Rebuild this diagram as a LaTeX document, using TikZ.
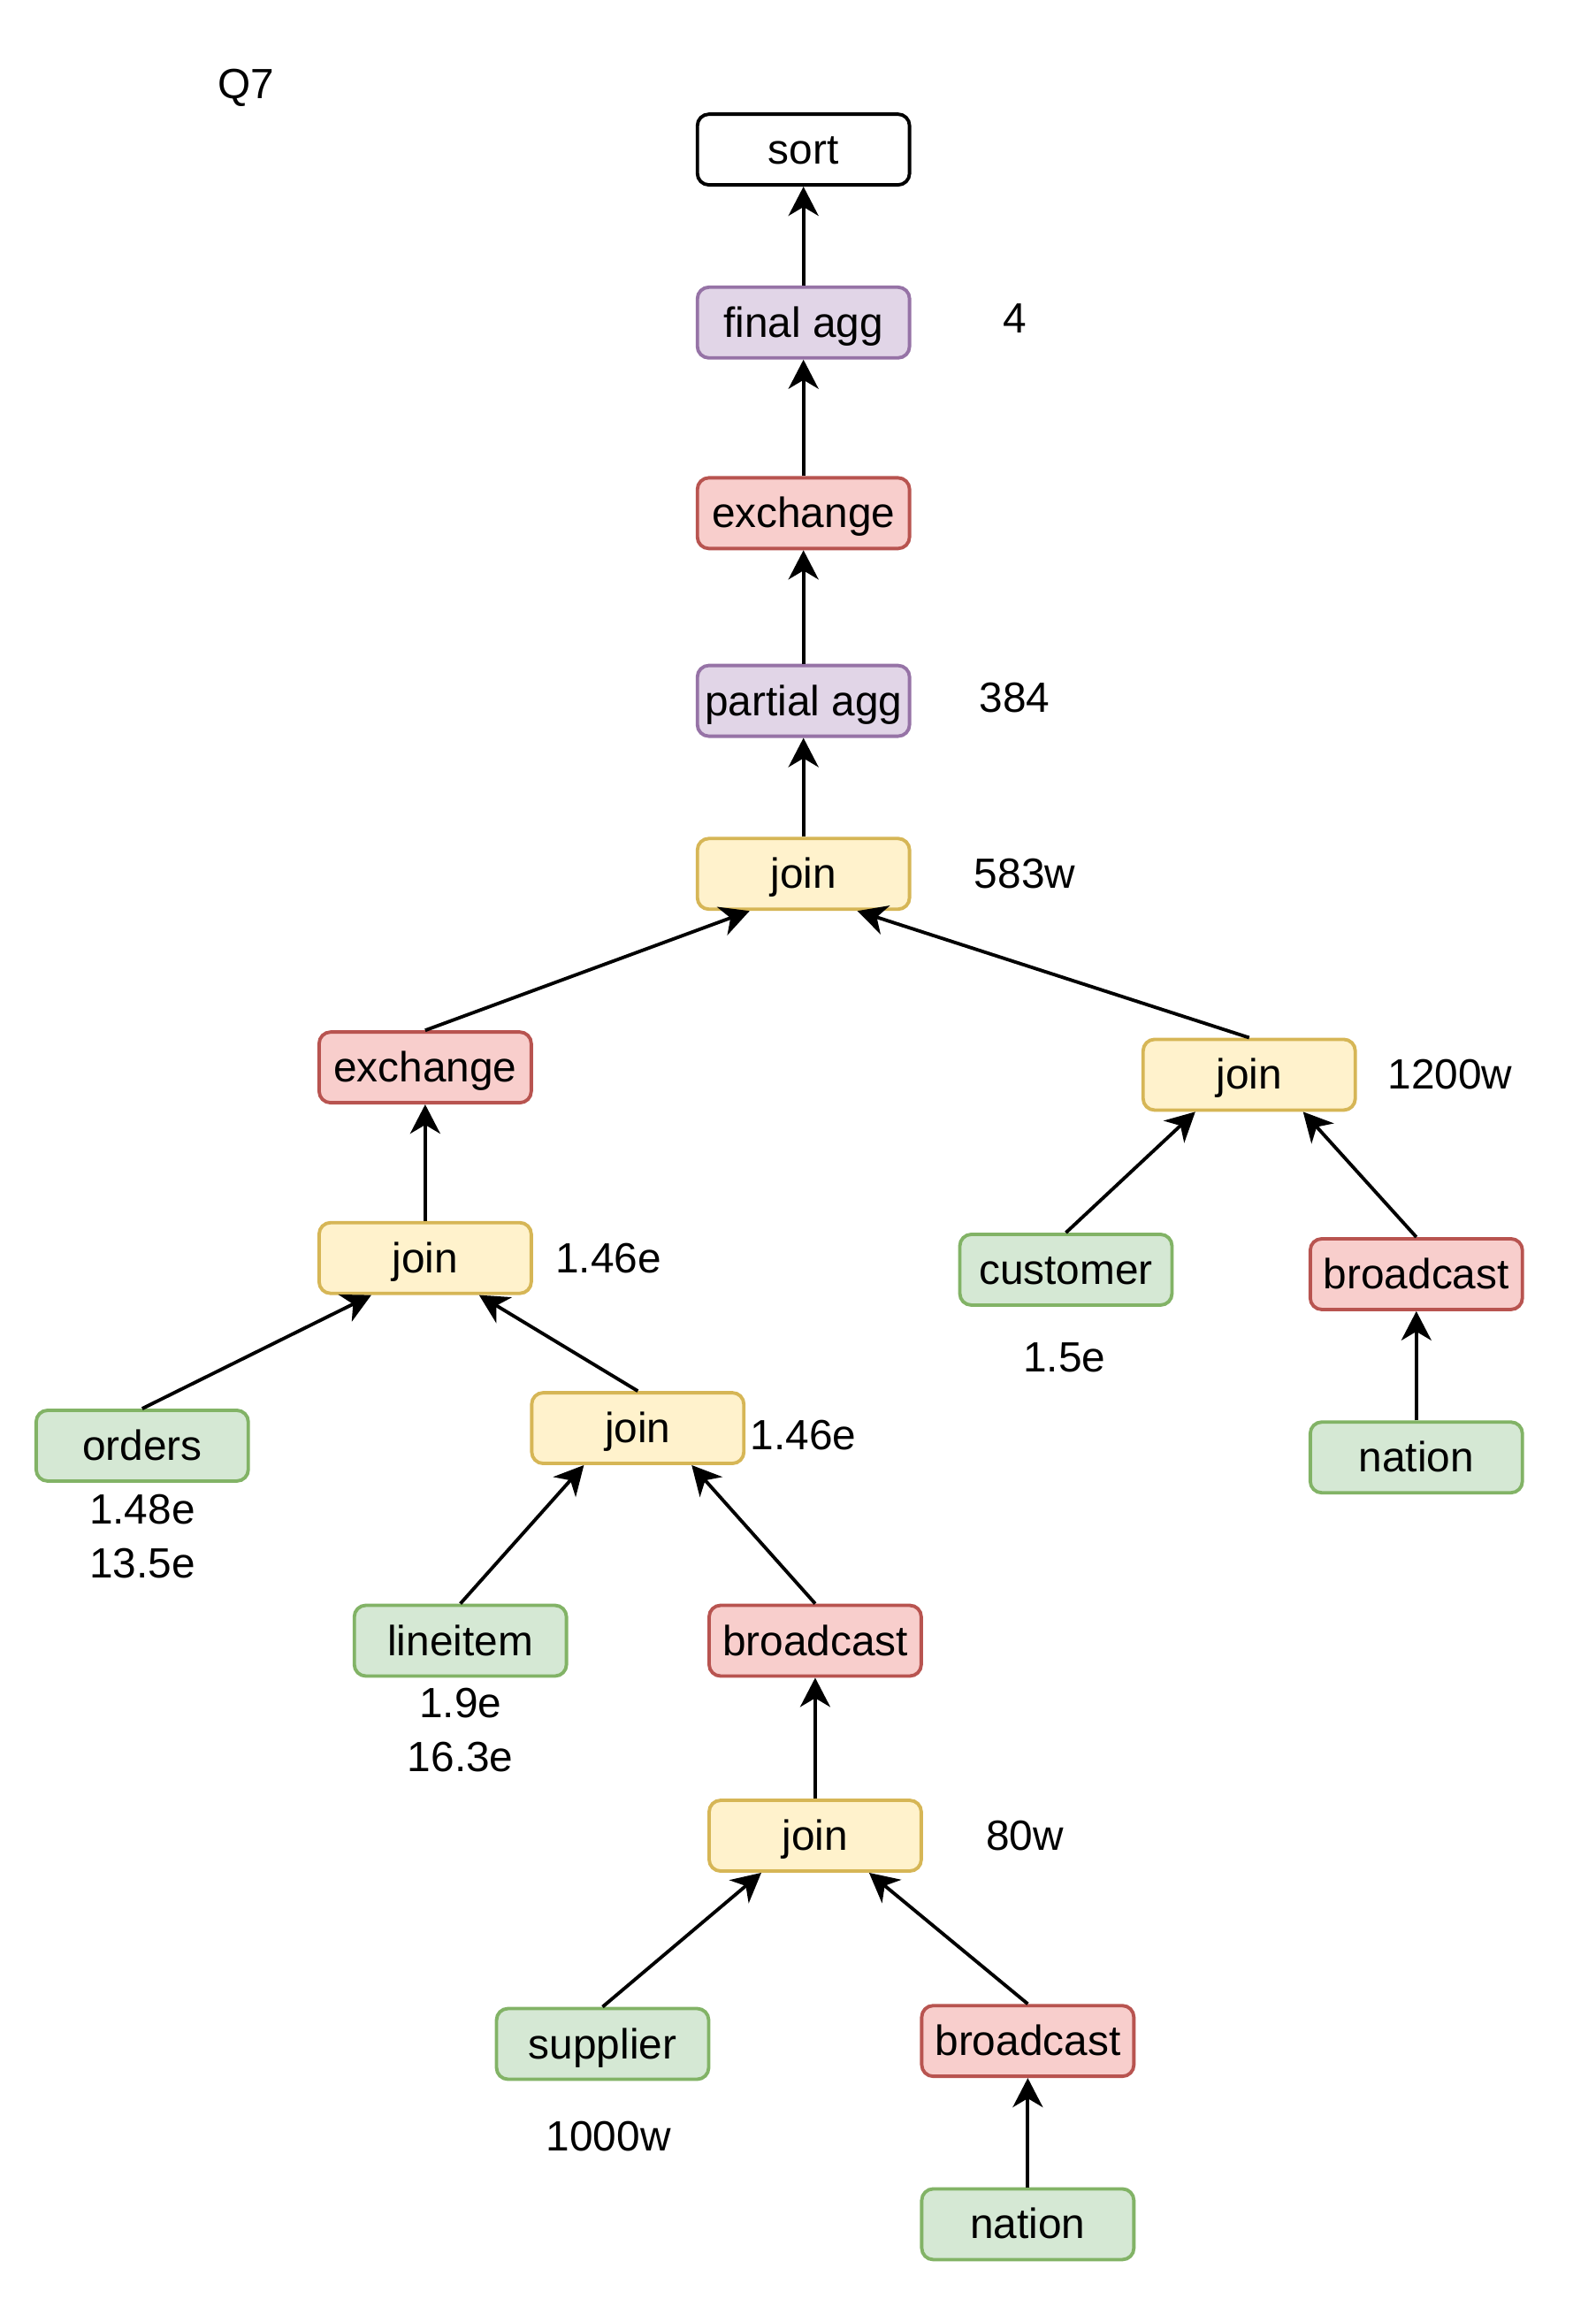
\documentclass[tikz,border=0pt]{standalone}
\usepackage{fontspec}
\setmainfont{Liberation Sans}
\usepackage{xcolor}
\usepackage{tikz}
\usetikzlibrary{arrows.meta,positioning,calc}

\definecolor{joinfill}{HTML}{FFF2CC}
\definecolor{joinline}{HTML}{D6B656}
\definecolor{aggfill}{HTML}{E1D5E7}
\definecolor{aggline}{HTML}{9673A6}
\definecolor{exfill}{HTML}{F8CECC}
\definecolor{exline}{HTML}{B85450}
\definecolor{tblfill}{HTML}{D5E8D4}
\definecolor{tblline}{HTML}{82B366}

\begin{document}
\begin{tikzpicture}[x=0.01658cm, y=-0.01658cm,
  op/.style={rectangle, rounded corners=0.13cm, line width=1.1pt,
    minimum width=2.40cm, minimum height=0.80cm, inner sep=0pt,
    text height=0.46cm, text depth=0.13cm,
    font=\fontsize{13.6}{16}\selectfont},
  sortbox/.style={op, draw=black, fill=white},
  aggbox/.style={op, draw=aggline, fill=aggfill},
  exbox/.style={op, draw=exline, fill=exfill},
  joinbox/.style={op, draw=joinline, fill=joinfill},
  tblbox/.style={op, draw=tblline, fill=tblfill},
  num/.style={font=\fontsize{13.6}{17.4}\selectfont, inner sep=0pt},
  arr/.style={line width=1.1pt, -{Stealth[length=0.33cm, width=0.34cm, inset=0.1cm]}}]
\useasboundingbox (0,0) rectangle (1088,1568);

% plan tree
\node[sortbox] (sort) at (548,102) {sort};
\node[aggbox] (finalAgg) at (548,220) {final agg};
\node[exbox] (exTop) at (548,350) {exchange};
\node[aggbox] (partialAgg) at (548,478) {partial agg};
\node[joinbox] (joinTop) at (548,596) {join};
\node[exbox] (exLeft) at (290,728) {exchange};
\node[joinbox] (joinRight) at (852,733) {join};
\node[joinbox] (joinLeft) at (290,858) {join};
\node[tblbox] (customer) at (727,866) {customer};
\node[exbox] (bcRight) at (966,869) {broadcast};
\node[tblbox] (orders) at (97,986) {orders};
\node[joinbox] (joinMid) at (435,974) {join};
\node[tblbox] (nationRight) at (966,994) {nation};
\node[tblbox] (lineitem) at (314,1119) {lineitem};
\node[exbox] (bcMid) at (556,1119) {broadcast};
\node[joinbox] (joinBot) at (556,1252) {join};
\node[tblbox] (supplier) at (411,1394) {supplier};
\node[exbox] (bcBot) at (701,1392) {broadcast};
\node[tblbox] (nationBot) at (701,1517) {nation};

% row counts
\node[num] (q7) at (168,60) {Q7};
\node[num] (cFinal) at (692,217) {4};
\node[num] (cPartial) at (692,476) {384};
\node[num] (cJoinTop) at (699,596) {583w};
\node[num] (cJoinRight) at (989,733) {1200w};
\node[num] (cJoinLeft) at (415,858) {1.46e};
\node[num] (cCustomer) at (726,926) {1.5e};
\node[num] (cJoinMid) at (548,979) {1.46e};
\node[num, align=center] (cOrders) at (97,1048) {1.48e\\13.5e};
\node[num, align=center] (cLineitem) at (314,1180) {1.9e\\16.3e};
\node[num] (cJoinBot) at (699,1252) {80w};
\node[num] (cSupplier) at (415,1457) {1000w};

% edges
\draw[arr] (finalAgg.north) -- (sort.south);
\draw[arr] (exTop.north) -- (finalAgg.south);
\draw[arr] (partialAgg.north) -- (exTop.south);
\draw[arr] (joinTop.north) -- (partialAgg.south);
\draw[arr] (exLeft.north) -- ($(joinTop.south)!0.5!(joinTop.south west)$);
\draw[arr] (joinRight.north) -- ($(joinTop.south)!0.5!(joinTop.south east)$);
\draw[arr] (joinLeft.north) -- (exLeft.south);
\draw[arr] (customer.north) -- ($(joinRight.south)!0.5!(joinRight.south west)$);
\draw[arr] (bcRight.north) -- ($(joinRight.south)!0.5!(joinRight.south east)$);
\draw[arr] (nationRight.north) -- (bcRight.south);
\draw[arr] (orders.north) -- ($(joinLeft.south)!0.5!(joinLeft.south west)$);
\draw[arr] (joinMid.north) -- ($(joinLeft.south)!0.5!(joinLeft.south east)$);
\draw[arr] (lineitem.north) -- ($(joinMid.south)!0.5!(joinMid.south west)$);
\draw[arr] (bcMid.north) -- ($(joinMid.south)!0.5!(joinMid.south east)$);
\draw[arr] (joinBot.north) -- (bcMid.south);
\draw[arr] (supplier.north) -- ($(joinBot.south)!0.5!(joinBot.south west)$);
\draw[arr] (bcBot.north) -- ($(joinBot.south)!0.5!(joinBot.south east)$);
\draw[arr] (nationBot.north) -- (bcBot.south);
\end{tikzpicture}
\end{document}
